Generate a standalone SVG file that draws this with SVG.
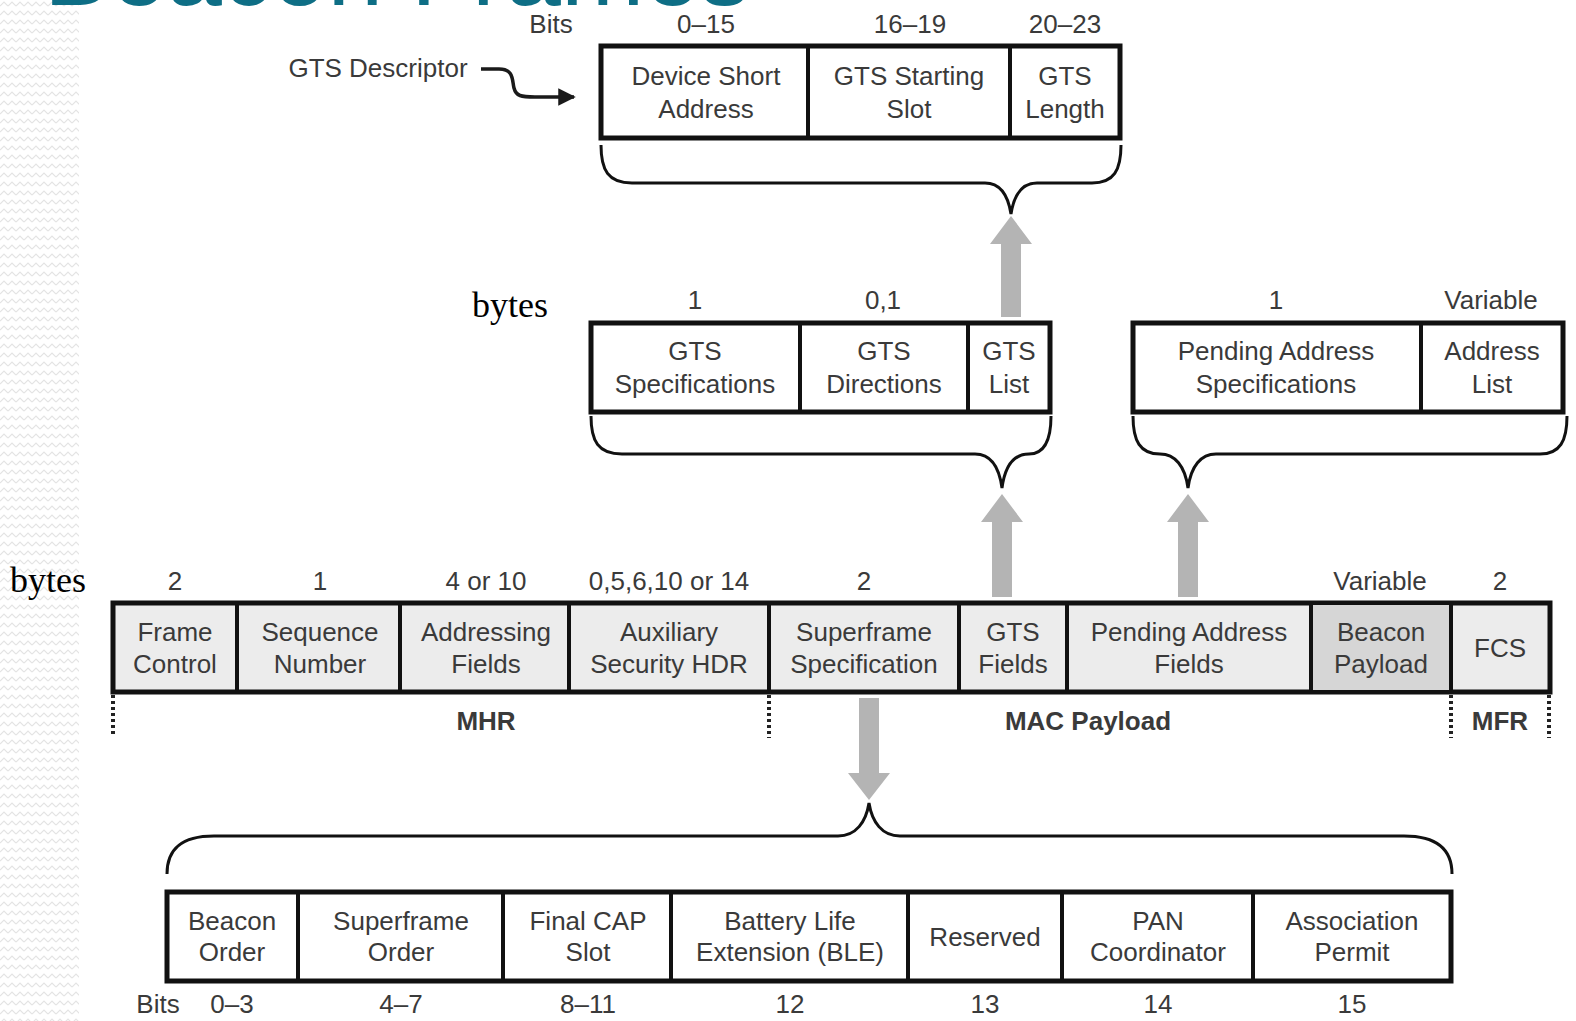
<svg xmlns="http://www.w3.org/2000/svg" width="1576" height="1021" viewBox="0 0 1576 1021">
  <defs>
    <pattern id="zigzag" patternUnits="userSpaceOnUse" width="8" height="9">
      <path d="M0,6 L4,2 L8,6" fill="none" stroke="#e4e4e4" stroke-width="1.2"/>
    </pattern>
    <marker id="tip" viewBox="0 0 10 10" refX="9" refY="5" markerWidth="5" markerHeight="5" orient="auto">
      <path d="M0,0 L10,5 L0,10 z" fill="#1a1a1a"/>
    </marker>
  </defs>
  <style>
    .t { font-family: "Liberation Sans", Arial, sans-serif; font-size: 26px; fill: #3a3a3a; text-anchor: middle; }
    .b { font-weight: bold; }
    .serif { font-family: "Liberation Serif", "Times New Roman", serif; font-size: 36px; fill: #000; }
    .box { fill: #ffffff; stroke: #111; stroke-width: 5; }
    .boxg { fill: #ececec; stroke: #111; stroke-width: 5; }
    .div { stroke: #111; stroke-width: 4; }
    .brace { fill: none; stroke: #111; stroke-width: 3; }
    .garrow { fill: #b4b4b4; }
    .dots { stroke: #222; stroke-width: 4; stroke-dasharray: 3 3; }
  </style>

  <rect width="1576" height="1021" fill="#ffffff"/>
  <rect x="0" y="0" width="79" height="1021" fill="url(#zigzag)"/>

  <!-- slide title, clipped by the top edge -->
  <text x="44" y="5" font-family="'Liberation Sans', Arial, sans-serif" font-size="100" fill="#0e6e85">Beacon Frames</text>

  <!-- GTS descriptor -->
  <g id="gts-descriptor">
    <text class="t" x="551" y="33">Bits</text>
    <text class="t" x="706" y="33">0–15</text>
    <text class="t" x="910" y="33">16–19</text>
    <text class="t" x="1065" y="33">20–23</text>
    <rect class="box" x="601" y="46" width="519" height="92"/>
    <line class="div" x1="808" y1="46" x2="808" y2="138"/>
    <line class="div" x1="1010" y1="46" x2="1010" y2="138"/>
    <text class="t" x="706" y="85">Device Short</text>
    <text class="t" x="706" y="118">Address</text>
    <text class="t" x="909" y="85">GTS Starting</text>
    <text class="t" x="909" y="118">Slot</text>
    <text class="t" x="1065" y="85">GTS</text>
    <text class="t" x="1065" y="118">Length</text>
    <text class="t" x="378" y="77">GTS Descriptor</text>
  </g>

  <!-- GTS fields -->
  <g id="gts-fields">
    <text class="serif" x="472" y="317">bytes</text>
    <text class="t" x="695" y="309">1</text>
    <text class="t" x="883" y="309">0,1</text>
    <rect class="box" x="591" y="323" width="459" height="89"/>
    <line class="div" x1="800" y1="323" x2="800" y2="412"/>
    <line class="div" x1="968" y1="323" x2="968" y2="412"/>
    <text class="t" x="695" y="360">GTS</text>
    <text class="t" x="695" y="393">Specifications</text>
    <text class="t" x="884" y="360">GTS</text>
    <text class="t" x="884" y="393">Directions</text>
    <text class="t" x="1009" y="360">GTS</text>
    <text class="t" x="1009" y="393">List</text>
  </g>

  <!-- Pending address fields -->
  <g id="pending-address-fields">
    <text class="t" x="1276" y="309">1</text>
    <text class="t" x="1491" y="309">Variable</text>
    <rect class="box" x="1133" y="323" width="430" height="89"/>
    <line class="div" x1="1421" y1="323" x2="1421" y2="412"/>
    <text class="t" x="1276" y="360">Pending Address</text>
    <text class="t" x="1276" y="393">Specifications</text>
    <text class="t" x="1492" y="360">Address</text>
    <text class="t" x="1492" y="393">List</text>
  </g>

  <!-- Beacon frame -->
  <g id="beacon-frame">
    <text class="serif" x="10" y="592">bytes</text>
    <text class="t" x="175" y="590">2</text>
    <text class="t" x="320" y="590">1</text>
    <text class="t" x="486" y="590">4 or 10</text>
    <text class="t" x="669" y="590">0,5,6,10 or 14</text>
    <text class="t" x="864" y="590">2</text>
    <text class="t" x="1380" y="590">Variable</text>
    <text class="t" x="1500" y="590">2</text>
    <rect class="boxg" x="113" y="603" width="1437" height="89"/>
    <rect x="1311" y="605" width="140" height="85" fill="#d6d6d6"/>
    <line class="div" x1="237" y1="603" x2="237" y2="692"/>
    <line class="div" x1="400" y1="603" x2="400" y2="692"/>
    <line class="div" x1="569" y1="603" x2="569" y2="692"/>
    <line class="div" x1="769" y1="603" x2="769" y2="692"/>
    <line class="div" x1="959" y1="603" x2="959" y2="692"/>
    <line class="div" x1="1067" y1="603" x2="1067" y2="692"/>
    <line class="div" x1="1311" y1="603" x2="1311" y2="692"/>
    <line class="div" x1="1451" y1="603" x2="1451" y2="692"/>
    <text class="t" x="175" y="641">Frame</text>
    <text class="t" x="175" y="673">Control</text>
    <text class="t" x="320" y="641">Sequence</text>
    <text class="t" x="320" y="673">Number</text>
    <text class="t" x="486" y="641">Addressing</text>
    <text class="t" x="486" y="673">Fields</text>
    <text class="t" x="669" y="641">Auxiliary</text>
    <text class="t" x="669" y="673">Security HDR</text>
    <text class="t" x="864" y="641">Superframe</text>
    <text class="t" x="864" y="673">Specification</text>
    <text class="t" x="1013" y="641">GTS</text>
    <text class="t" x="1013" y="673">Fields</text>
    <text class="t" x="1189" y="641">Pending Address</text>
    <text class="t" x="1189" y="673">Fields</text>
    <text class="t" x="1381" y="641">Beacon</text>
    <text class="t" x="1381" y="673">Payload</text>
    <text class="t" x="1500" y="657">FCS</text>
    <line class="dots" x1="113" y1="695" x2="113" y2="737"/>
    <line class="dots" x1="769" y1="695" x2="769" y2="738"/>
    <line class="dots" x1="1451" y1="695" x2="1451" y2="738"/>
    <line class="dots" x1="1549" y1="695" x2="1549" y2="738"/>
    <text class="t b" x="486" y="730">MHR</text>
    <text class="t b" x="1088" y="730">MAC Payload</text>
    <text class="t b" x="1500" y="730">MFR</text>
  </g>

  <!-- Superframe specification -->
  <g id="superframe-spec">
    <rect class="box" x="167" y="892" width="1284" height="89"/>
    <line class="div" x1="298" y1="892" x2="298" y2="981"/>
    <line class="div" x1="503" y1="892" x2="503" y2="981"/>
    <line class="div" x1="671" y1="892" x2="671" y2="981"/>
    <line class="div" x1="908" y1="892" x2="908" y2="981"/>
    <line class="div" x1="1062" y1="892" x2="1062" y2="981"/>
    <line class="div" x1="1253" y1="892" x2="1253" y2="981"/>
    <text class="t" x="232" y="930">Beacon</text>
    <text class="t" x="401" y="930">Superframe</text>
    <text class="t" x="588" y="930">Final CAP</text>
    <text class="t" x="790" y="930">Battery Life</text>
    <text class="t" x="1158" y="930">PAN</text>
    <text class="t" x="1352" y="930">Association</text>
    <text class="t" x="232" y="961">Order</text>
    <text class="t" x="401" y="961">Order</text>
    <text class="t" x="588" y="961">Slot</text>
    <text class="t" x="790" y="961">Extension (BLE)</text>
    <text class="t" x="1158" y="961">Coordinator</text>
    <text class="t" x="1352" y="961">Permit</text>
    <text class="t" x="985" y="946">Reserved</text>
    <text class="t" x="158" y="1013">Bits</text>
    <text class="t" x="232" y="1013">0–3</text>
    <text class="t" x="401" y="1013">4–7</text>
    <text class="t" x="588" y="1013">8–11</text>
    <text class="t" x="790" y="1013">12</text>
    <text class="t" x="985" y="1013">13</text>
    <text class="t" x="1158" y="1013">14</text>
    <text class="t" x="1352" y="1013">15</text>
  </g>

  <!-- connectors: braces, grey expansion arrows, descriptor pointer -->
  <g id="connectors">
    <path class="brace" d="M601,145 C601,170 608,183 632,183 L985,183 C1000,183 1008,195 1011,214 C1014,195 1022,183 1037,183 L1092,183 C1114,183 1121,170 1121,145"/>
    <path class="brace" d="M591,416 C591,441 598,454 622,454 L975,454 C990,454 999,466 1002,488 C1005,466 1014,454 1029,454 C1044,454 1051,441 1051,416"/>
    <path class="brace" d="M1133,416 C1133,441 1140,454 1160,454 C1175,454 1185,466 1188,488 C1191,466 1201,454 1216,454 L1540,454 C1560,454 1567,441 1567,416"/>
    <path class="brace" d="M167,874 C167,850 180,836 214,836 L838,836 C856,836 866,822 869,803 C872,822 882,836 900,836 L1404,836 C1438,836 1452,850 1452,874"/>

    <polygon class="garrow" points="1011,216 1032,244 1021,244 1021,317 1001,317 1001,244 990,244"/>
    <polygon class="garrow" points="1002,494 1023,522 1012,522 1012,597 992,597 992,522 981,522"/>
    <polygon class="garrow" points="1188,494 1209,522 1198,522 1198,597 1178,597 1178,522 1167,522"/>
    <polygon class="garrow" points="869,800 890,773 879,773 879,698 859,698 859,773 848,773"/>

    <path d="M481,69 L499,69 C514,69 512,80 514,88 C516,96 521,97 535,97 L574,97" fill="none" stroke="#1a1a1a" stroke-width="3.5" marker-end="url(#tip)"/>
  </g>
</svg>
